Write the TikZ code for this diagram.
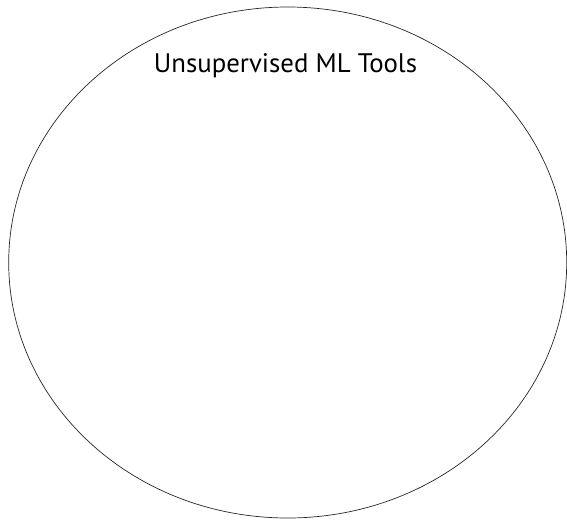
\documentclass[tikz,border=0pt]{standalone}
\usepackage{fontspec}
\setmainfont{PT Sans}
\usetikzlibrary{shapes.geometric}
\begin{document}
\begin{tikzpicture}[x=1pt,y=-1pt,
  outline/.style={draw=black!85,line width=0.7pt},
  titletext/.style={font=\fontsize{26.8}{30}\selectfont,text=black,inner sep=0pt,anchor=base}]
\useasboundingbox (0,0) rectangle (567,520);
\node[outline,ellipse,minimum width=558pt,minimum height=511pt,inner sep=0pt] (ell) at (287.7,262.5) {};
\node[titletext] (title) at (285.5,72) {Unsupervised ML Tools};
\end{tikzpicture}
\end{document}
